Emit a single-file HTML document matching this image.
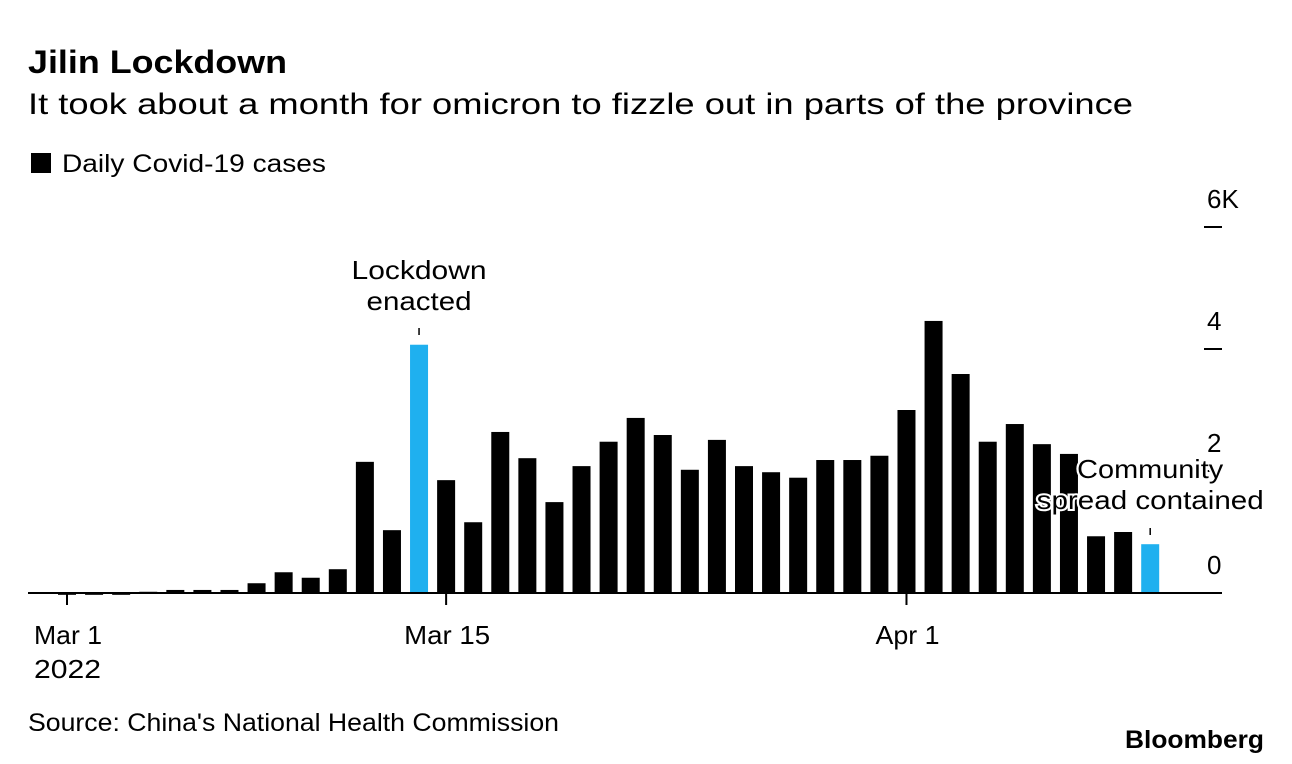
<!DOCTYPE html>
<html><head><meta charset="utf-8"><style>
body{margin:0;background:#fff;width:1292px;height:764px;overflow:hidden;font-family:"Liberation Sans",Arial,sans-serif}
</style></head><body>
<svg id="c" width="1292" height="764" style="position:absolute;left:0;top:0">
<text x="28" y="73" font-size="32" font-weight="bold" fill="#000" textLength="259" lengthAdjust="spacingAndGlyphs">Jilin Lockdown</text>
<text x="28" y="114" font-size="30" fill="#000" textLength="1105" lengthAdjust="spacingAndGlyphs">It took about a month for omicron to fizzle out in parts of the province</text>
<rect x="31" y="153" width="20" height="20" fill="#000"/>
<text x="62" y="172" font-size="25" fill="#000" textLength="264" lengthAdjust="spacingAndGlyphs">Daily Covid-19 cases</text>
<g id="bars"></g>
<g id="axes"></g>
<text x="28" y="731" font-size="25" fill="#000" textLength="531" lengthAdjust="spacingAndGlyphs">Source: China's National Health Commission</text>
<text x="1125" y="748" font-size="25" font-weight="bold" fill="#000" textLength="139" lengthAdjust="spacingAndGlyphs">Bloomberg</text>
</svg>
<script>
const days=["Mar 1","Mar 2","Mar 3","Mar 4","Mar 5","Mar 6","Mar 7","Mar 8","Mar 9","Mar 10","Mar 11","Mar 12","Mar 13","Mar 14","Mar 15","Mar 16","Mar 17","Mar 18","Mar 19","Mar 20","Mar 21","Mar 22","Mar 23","Mar 24","Mar 25","Mar 26","Mar 27","Mar 28","Mar 29","Mar 30","Mar 31","Apr 1","Apr 2","Apr 3","Apr 4","Apr 5","Apr 6","Apr 7","Apr 8","Apr 9","Apr 10"];
const cases=[-0.03,-0.03,-0.03,0.02,0.05,0.05,0.05,0.16,0.34,0.25,0.39,2.15,1.03,4.07,1.85,1.16,2.64,2.21,1.49,2.08,2.48,2.87,2.59,2.02,2.51,2.08,1.98,1.89,2.18,2.18,2.25,3.0,4.46,3.59,2.48,2.77,2.44,2.28,0.93,1.0,0.8];
const highlighted=["Mar 14","Apr 10"];
const yTicks=[0,2,4,6];
const yTickLabels=["0","2","4","6K"];
const xTickDays=["Mar 1","Mar 15","Apr 1"];
const xTickLabels=["Mar 1","Mar 15","Apr 1"];
const NS="http://www.w3.org/2000/svg";
const x0=67,step=27.08,y0=593,pxPer=61,bw=18;
const xs=i=>x0+i*step;
const ys=v=>y0-v*pxPer;
function mk(t,a,p){const e=document.createElementNS(NS,t);for(const k in a)e.setAttribute(k,a[k]);p.appendChild(e);return e;}
const bars=document.getElementById('bars'),axes=document.getElementById('axes');
cases.forEach((v,i)=>{
 const top=Math.min(ys(v),y0),h=Math.max(Math.abs(ys(v)-y0),1);
 const r=mk('rect',{x:xs(i)-bw/2,y:top,width:bw,height:h,fill:highlighted.includes(days[i])?'#1fb0ef':'#000'},bars);
 
 
});
const ax=mk('line',{x1:28,x2:1222,y1:y0,y2:y0,stroke:'#000','stroke-width':2},axes);


yTicks.forEach((v,i)=>{
 const y=ys(v);
 if(v>0){const l=mk('line',{x1:1204,x2:1222,y1:y,y2:y,stroke:'#000','stroke-width':2},axes);
 
 }
 const t=mk('text',{x:1207,y:y-19,'font-size':26,fill:'#000'},axes);
 t.textContent=yTickLabels[i];
 
 
});
const xLabW=[68,86,64];
xTickDays.forEach((d,i)=>{
 const x=xs(days.indexOf(d));
 const l=mk('line',{x1:x,x2:x,y1:y0,y2:y0+12,stroke:'#000','stroke-width':2},axes);
 
 
 const t=mk('text',{x:x-xLabW[i]/2+1,y:644,'font-size':26,fill:'#000',textLength:xLabW[i],lengthAdjust:'spacingAndGlyphs'},axes);
 t.textContent=xTickLabels[i];
 
 
});
const yr=mk('text',{x:34,y:678,'font-size':26,fill:'#000',textLength:67,lengthAdjust:'spacingAndGlyphs'},axes);yr.textContent='2022';


function note(day,lines,widths,yTop,tickY){
 const x=xs(days.indexOf(day));
 const g=mk('g',{},axes);
 
 
 lines.forEach((s,k)=>{
  const t=mk('text',{x:x-widths[k]/2,y:yTop+k*31,'font-size':26,fill:'#000',stroke:'#fff','stroke-width':4,'paint-order':'stroke',textLength:widths[k],lengthAdjust:'spacingAndGlyphs'},g);
  t.textContent=s;
 });
 mk('line',{x1:x,x2:x,y1:tickY,y2:tickY+7,stroke:'#000','stroke-width':1.5},g);
}
note("Mar 14",["Lockdown","enacted"],[135,105],279,328);
note("Apr 10",["Community","spread contained"],[146,227],478,528);
</script>
</body></html>
